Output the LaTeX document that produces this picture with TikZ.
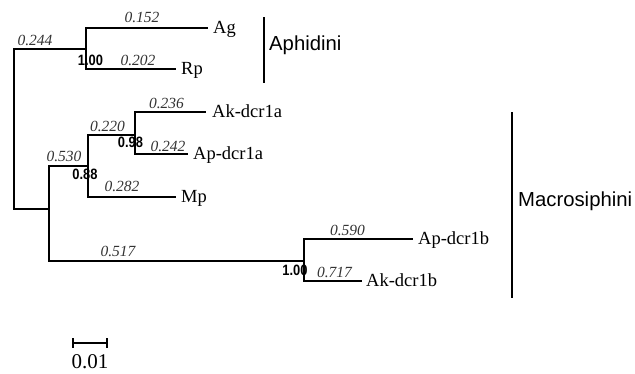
\documentclass[tikz,border=0pt]{standalone}
\usepackage{fontspec}
\usepackage{graphicx}
\setmainfont{Liberation Serif}
\setsansfont{Liberation Sans}
\usetikzlibrary{calc}
\begin{document}
\begin{tikzpicture}[x=1pt,y=-1pt,
  branch/.style={line width=1.4pt,line cap=rect},
  cladebar/.style={line width=2.8pt},
  taxon/.style={anchor=base west,inner sep=0pt,font=\fontsize{18.5}{21}\selectfont},
  blen/.style={anchor=base,inner sep=0pt,text=black!80,font=\fontsize{15.5}{18}\selectfont\itshape},
  boot/.style={anchor=base,inner sep=0pt,font=\fontsize{15}{17}\sffamily\bfseries},
  clade/.style={anchor=base west,inner sep=0pt,font=\fontsize{20.3}{24}\sffamily},
  scalelabel/.style={anchor=base,inner sep=0pt,font=\fontsize{21}{24}\selectfont}]
\useasboundingbox (0,0) rectangle (635,373);
% internal nodes
\coordinate (root) at (14,129);
\coordinate (n1) at (86,49);
\coordinate (n2) at (49,209);
\coordinate (n3) at (88,166);
\coordinate (n4) at (135,135);
\coordinate (n5) at (304,261);
% tips
\coordinate (tAg) at (207,28);
\coordinate (tRp) at (175,69);
\coordinate (tAk1a) at (205,112);
\coordinate (tAp1a) at (187,154);
\coordinate (tMp) at (175,197);
\coordinate (tAp1b) at (412,239);
\coordinate (tAk1b) at (361,281);
% branches
\draw[branch] (root) |- (n1);
\draw[branch] (root) |- (n2);
\draw[branch] (n1) |- (tAg);
\draw[branch] (n1) |- (tRp);
\draw[branch] (n2) |- (n3);
\draw[branch] (n2) |- (n5);
\draw[branch] (n3) |- (n4);
\draw[branch] (n3) |- (tMp);
\draw[branch] (n4) |- (tAk1a);
\draw[branch] (n4) |- (tAp1a);
\draw[branch] (n5) |- (tAp1b);
\draw[branch] (n5) |- (tAk1b);
% taxon labels
\node[taxon] (Ag) at ($(tAg)+(6,5.5)$) {Ag};
\node[taxon] (Rp) at ($(tRp)+(6,5.5)$) {Rp};
\node[taxon] (Ak1a) at ($(tAk1a)+(7,5.5)$) {Ak-dcr1a};
\node[taxon] (Ap1a) at ($(tAp1a)+(6,5.5)$) {Ap-dcr1a};
\node[taxon] (Mp) at ($(tMp)+(6,5.5)$) {Mp};
\node[taxon] (Ap1b) at ($(tAp1b)+(6,5.5)$) {Ap-dcr1b};
\node[taxon] (Ak1b) at ($(tAk1b)+(5,5.5)$) {Ak-dcr1b};
% branch lengths
\node[blen] (l1) at (35,45) {0.244};
\node[blen] (l2) at (142,22.7) {0.152};
\node[blen] (l3) at (138,65.7) {0.202};
\node[blen] (l4) at (166.5,108) {0.236};
\node[blen] (l5) at (107.5,131.7) {0.220};
\node[blen] (l6) at (168,151) {0.242};
\node[blen] (l7) at (64,161.7) {0.530};
\node[blen] (l8) at (122,191) {0.282};
\node[blen] (l9) at (118,256) {0.517};
\node[blen] (l10) at (347.5,235) {0.590};
\node[blen] (l11) at (334.5,277.3) {0.717};
% support values
\node[boot] (b1) at (90.5,65) {\scalebox{0.86}[1]{1.00}};
\node[boot] (b2) at (130.5,147.3) {\scalebox{0.86}[1]{0.98}};
\node[boot] (b3) at (85,179.3) {\scalebox{0.86}[1]{0.88}};
\node[boot] (b4) at (295,275) {\scalebox{0.86}[1]{1.00}};
% clade bars
\coordinate (a1) at (264,17);
\coordinate (a2) at (264,83);
\draw[cladebar] (a1) -- (a2);
\node[clade] (Aphidini) at (269,50) {Aphidini};
\coordinate (m1) at (512,112);
\coordinate (m2) at (512,298);
\draw[cladebar] (m1) -- (m2);
\node[clade] (Macro) at (518,206) {Macrosiphini};
% scale bar
\coordinate (s1) at (73,343);
\coordinate (s2) at (107,343);
\draw[branch,line cap=butt] (s1) -- (s2);
\draw[branch,line cap=butt] ($(s1)+(0,-5)$) -- ($(s1)+(0,5)$);
\draw[branch,line cap=butt] ($(s2)+(0,-5)$) -- ($(s2)+(0,5)$);
\node[scalelabel] (sl) at (90,368) {0.01};
\end{tikzpicture}
\end{document}
